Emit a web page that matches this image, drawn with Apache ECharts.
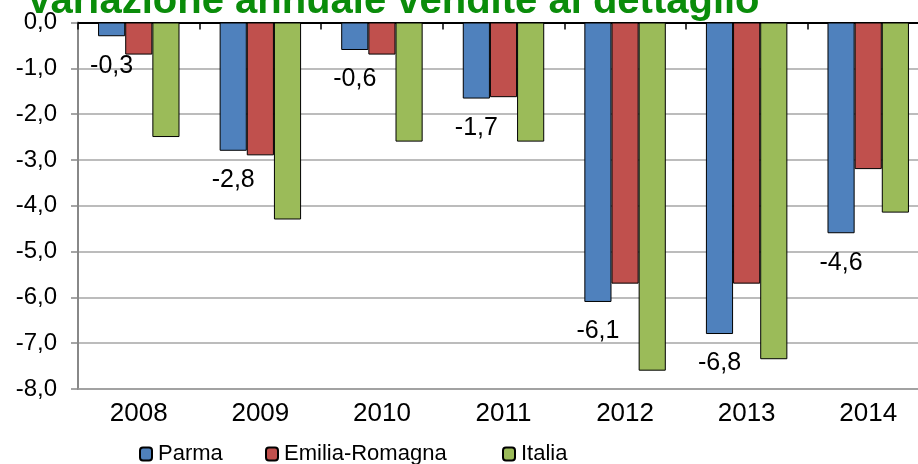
<!DOCTYPE html>
<html>
<head>
<meta charset="utf-8">
<script src="https://cdn.jsdelivr.net/npm/echarts@6/dist/echarts.min.js"></script>
<style>
  html, body { margin: 0; padding: 0; background: #fff; }
  #chart { width: 918px; height: 464px; }
</style>
</head>
<body>
<div id="chart"></div>
<script>
// dati
var anni = ['2008', '2009', '2010', '2011', '2012', '2013', '2014'];
var serie = ['Parma', 'Emilia-Romagna', 'Italia'];
var parma = [-0.3, -2.8, -0.6, -1.66, -6.1, -6.8, -4.6];
var emiliaRomagna = [-0.7, -2.9, -0.7, -1.63, -5.7, -5.7, -3.2];
var italia = [-2.5, -4.3, -2.6, -2.6, -7.6, -7.35, -4.15];
var yTicks = [0, -1, -2, -3, -4, -5, -6, -7, -8];

var FONT = 'Liberation Sans, Arial, sans-serif';

function virgola(v) {
    return v.toFixed(1).replace('.', ',');
}

// una legenda per voce, posizionate come nell'originale
var legendLeft = [134, 260, 497];
var legende = serie.map(function (nome, i) {
    return {
        data: [nome],
        left: legendLeft[i],
        top: 438,
        itemWidth: 12,
        itemHeight: 13,
        textStyle: { fontFamily: FONT, fontSize: 22, color: '#000', padding: [0, 0, 0, 1] }
    };
});

var myChart = echarts.init(document.getElementById('chart'));

var option = {
    animation: false,
    graphic: [{
        type: 'text',
        left: 26,
        top: -18,
        style: {
            text: 'Variazione annuale vendite al dettaglio',
            font: 'bold 40px ' + FONT,
            fill: '#0a8c0a'
        }
    }],
    legend: legende,
    grid: { left: 78, width: 851, top: 22.5, bottom: 75, containLabel: false, outerBoundsMode: 'none' },
    xAxis: [{
        type: 'category',
        data: anni,
        position: 'bottom',
        axisLine: { onZero: false, lineStyle: { color: '#999', width: 1.5 } },
        axisTick: { show: false },
        axisLabel: { fontFamily: FONT, fontSize: 26, color: '#000', margin: 12 }
    }, {
        type: 'category',
        data: anni,
        position: 'top',
        axisLine: { onZero: false, lineStyle: { color: '#000', width: 2 } },
        axisTick: { show: true, inside: true, length: 7, lineStyle: { color: '#000', width: 1.5 } },
        axisLabel: { show: false }
    }],
    yAxis: {
        type: 'value',
        min: yTicks[yTicks.length - 1],
        max: yTicks[0],
        interval: 1,
        axisLine: { show: true, lineStyle: { color: '#888', width: 2 } },
        axisTick: { show: true, length: 7, lineStyle: { color: '#888', width: 1.5 } },
        splitLine: { lineStyle: { color: '#a6a6a6', width: 1.5 } },
        axisLabel: {
            fontFamily: FONT, fontSize: 24, color: '#000', margin: 21,
            formatter: function (v) { return virgola(v); }
        }
    },
    series: [{
        name: serie[0],
        type: 'bar',
        data: parma,
        barGap: '0%',
        barCategoryGap: '33%',
        itemStyle: { color: '#4f81bd', borderColor: '#000', borderWidth: 1 },
        label: {
            show: true,
            position: 'bottom',
            distance: 17,
            fontFamily: FONT,
            fontSize: 25,
            color: '#000',
            formatter: function (p) { return virgola(p.value); }
        }
    }, {
        name: serie[1],
        type: 'bar',
        data: emiliaRomagna,
        barGap: '0%',
        barCategoryGap: '33%',
        itemStyle: { color: '#c0504d', borderColor: '#000', borderWidth: 1 }
    }, {
        name: serie[2],
        type: 'bar',
        data: italia,
        barGap: '0%',
        barCategoryGap: '33%',
        itemStyle: { color: '#9bbb59', borderColor: '#000', borderWidth: 1 }
    }]
};

myChart.setOption(option);
</script>
</body>
</html>
